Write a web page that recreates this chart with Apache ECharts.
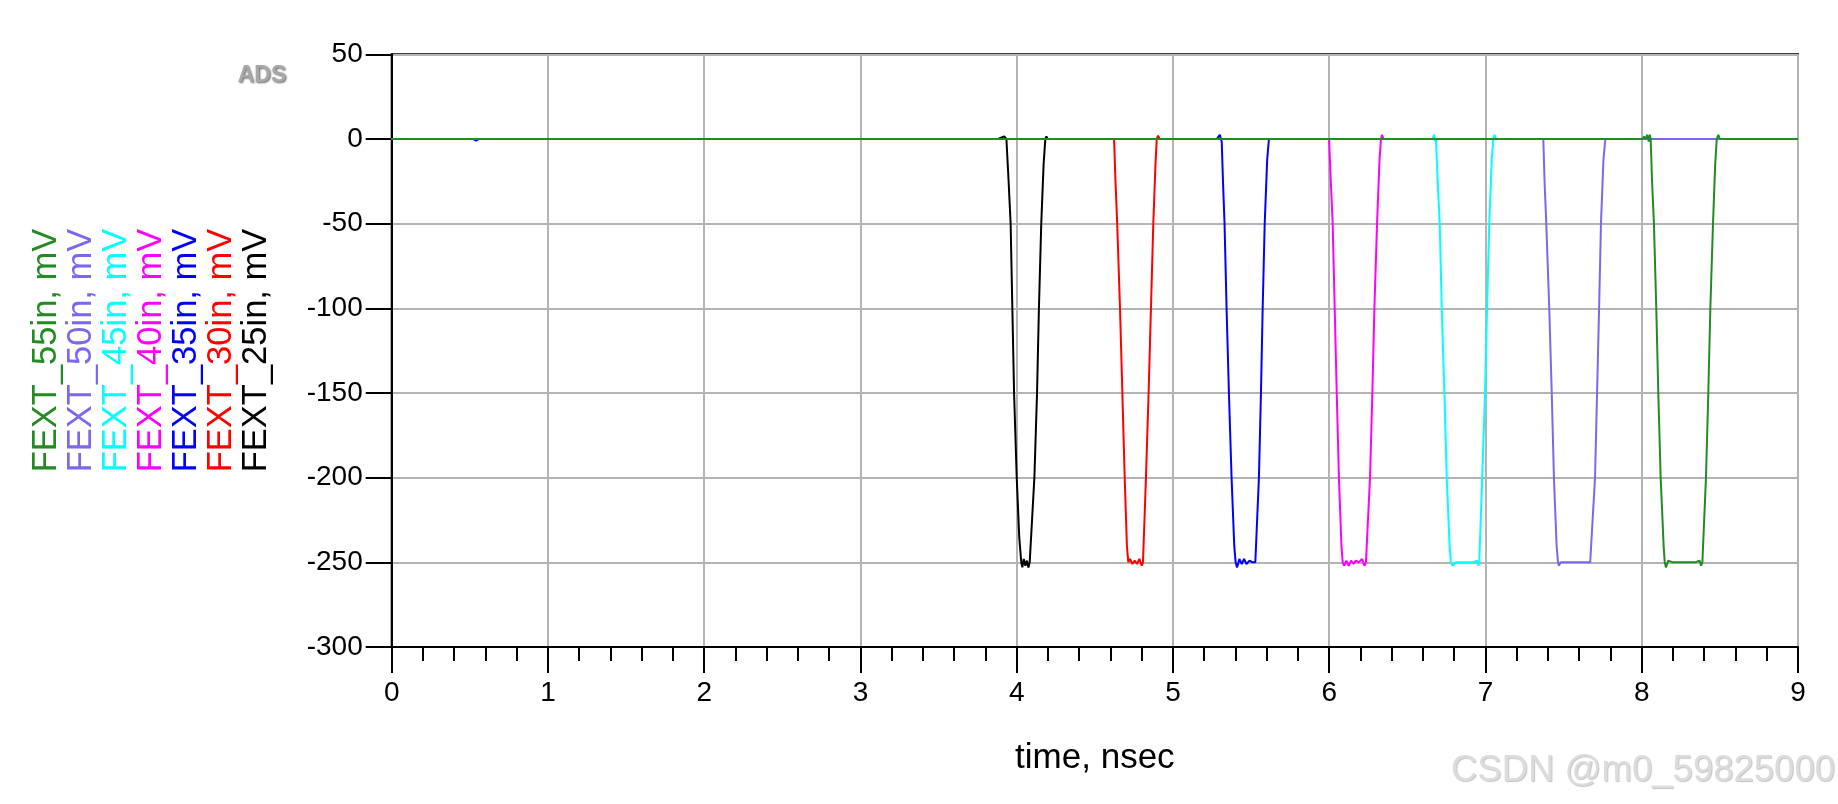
<!DOCTYPE html>
<html>
<head>
<meta charset="utf-8">
<script src="https://cdn.jsdelivr.net/npm/echarts@6/dist/echarts.min.js"></script>
<style>
html,body{margin:0;padding:0;background:#fff;}
#chart{width:1838px;height:804px;}
</style>
</head>
<body>
<div id="chart"></div>
<script>
// x ticks (nsec) and y ticks (mV)
const xTicks = [0, 1, 2, 3, 4, 5, 6, 7, 8, 9];
const yTicks = [50, 0, -50, -100, -150, -200, -250, -300];

const seriesNames = ['FEXT_25in', 'FEXT_30in', 'FEXT_35in', 'FEXT_40in', 'FEXT_45in', 'FEXT_50in', 'FEXT_55in'];
const seriesColors = ['#000000', '#FF0000', '#0000FF', '#FF00FF', '#00FFFF', '#7B68EE', '#228B22'];

// FEXT_25in (black)
const t25 = [0, 3.880, 3.886, 3.892, 3.920, 3.928, 3.934, 3.948, 3.961, 3.972, 3.983, 4.000, 4.016, 4.029, 4.036, 4.045, 4.055, 4.065, 4.075, 4.083, 4.091, 4.113, 4.130, 4.142, 4.157, 4.172, 4.183, 4.190, 4.198, 4.206, 4.214, 9];
const v25 = [0, 0, 0.8, 0, 1.5, 2, 0, -25, -50, -100, -150, -200, -235, -250, -253, -248, -252, -249, -253, -250, -250, -200, -150, -100, -50, -15, 0, 1.5, 0, 0.8, 0, 0];
// FEXT_30in (red)
const t30 = [0, 4.600, 4.623, 4.632, 4.643, 4.661, 4.676, 4.691, 4.705, 4.714, 4.725, 4.740, 4.755, 4.770, 4.785, 4.800, 4.808, 4.827, 4.844, 4.859, 4.874, 4.888, 4.896, 4.905, 4.915, 4.922, 4.930, 9];
const v30 = [0, 0, 0, -25, -50, -100, -150, -200, -240, -250, -248, -251, -249, -251, -248, -252, -250, -200, -150, -100, -50, -15, 0, 2, 0, 0.6, 0, 0];
// FEXT_35in (blue)
const t35 = [0, 0.52, 0.54, 0.56, 5.280, 5.290, 5.300, 5.306, 5.312, 5.320, 5.330, 5.343, 5.358, 5.375, 5.392, 5.401, 5.410, 5.425, 5.440, 5.455, 5.470, 5.490, 5.510, 5.522, 5.527, 5.550, 5.563, 5.574, 5.587, 5.603, 5.614, 5.622, 5.630, 9];
const v35 = [0, 0, -1, 0, 0, 1, 2.5, 0, -1.5, -25, -50, -100, -150, -200, -240, -250, -253, -248, -251, -248, -251, -249, -250, -249, -250, -200, -150, -100, -50, -12, 0, 0.6, 0, 0];
// FEXT_40in (magenta)
const t40 = [0, 5.999, 6.010, 6.022, 6.035, 6.048, 6.062, 6.078, 6.086, 6.095, 6.110, 6.125, 6.140, 6.155, 6.170, 6.190, 6.210, 6.225, 6.235, 6.240, 6.261, 6.276, 6.289, 6.306, 6.322, 6.331, 6.338, 6.348, 6.356, 6.364, 9];
const v40 = [0, 0, -25, -50, -100, -150, -200, -240, -250, -252, -249, -252, -249, -251, -249, -250, -248, -252, -250, -250, -200, -150, -100, -50, -12, 0, 2.5, 0, 0.6, 0, 0];
// FEXT_45in (cyan)
const t45 = [0, 6.660, 6.665, 6.672, 6.678, 6.683, 6.694, 6.707, 6.720, 6.737, 6.752, 6.770, 6.778, 6.790, 6.810, 6.830, 6.860, 6.890, 6.920, 6.945, 6.955, 6.960, 6.979, 6.997, 7.010, 7.024, 7.040, 7.050, 7.058, 7.066, 7.074, 7.082, 9];
const v45 = [0, 0, 0, 2.5, -1.5, 0, -25, -50, -100, -150, -200, -240, -250, -252, -250, -250, -250, -250, -250, -249, -252, -250, -200, -150, -100, -50, -12, 0, 2.5, 0, 1, 0, 0];
// FEXT_50in (purple)
const t50 = [0, 7.355, 7.362, 7.370, 7.378, 7.389, 7.408, 7.424, 7.438, 7.455, 7.464, 7.470, 7.480, 7.500, 7.550, 7.600, 7.650, 7.670, 7.675, 7.701, 7.714, 7.727, 7.739, 7.755, 7.767, 9];
const v50 = [0, 0, 1, 0, -25, -50, -100, -150, -200, -240, -250, -252, -250, -250, -250, -250, -250, -250, -250, -200, -150, -100, -50, -12, 0, 0];
// FEXT_55in (green)
const t55 = [0, 7.985, 7.995, 8.005, 8.015, 8.025, 8.035, 8.045, 8.052, 8.057, 8.066, 8.078, 8.093, 8.106, 8.121, 8.140, 8.147, 8.155, 8.170, 8.200, 8.250, 8.300, 8.340, 8.370, 8.380, 8.388, 8.411, 8.426, 8.439, 8.456, 8.470, 8.480, 8.490, 8.500, 8.510, 8.520, 9];
const v55 = [0, 0, 1, 0, 1.5, 0, 2.5, -1.5, 2.5, 0, -25, -50, -100, -150, -200, -240, -250, -253, -249, -250, -250, -250, -250, -249, -252, -250, -200, -150, -100, -50, -15, 0, 2.5, 0, 1, 0, 0];

const times = [t25, t30, t35, t40, t45, t50, t55];
const values = [v25, v30, v35, v40, v45, v50, v55];

const FONT = '"Liberation Sans", Arial, sans-serif';

const series = seriesNames.map((name, i) => ({
  name: name,
  type: 'line',
  showSymbol: false,
  symbol: 'none',
  animation: false,
  lineStyle: { color: seriesColors[i], width: 2 },
  itemStyle: { color: seriesColors[i] },
  data: times[i].map((t, k) => [t, values[i][k]])
}));

// Legend-like rotated labels (left side), green first from left
const legendOrder = [6, 5, 4, 3, 2, 1, 0];
const legendTexts = legendOrder.map((idx, col) => ({
  type: 'text',
  x: 46.7 + col * 35,
  y: 350.5,
  rotation: Math.PI / 2,
  style: {
    text: seriesNames[idx] + ', mV',
    fill: seriesColors[idx],
    font: '34.5px ' + FONT,
    textAlign: 'center',
    textVerticalAlign: 'middle'
  }
}));

const chart = echarts.init(document.getElementById('chart'));
chart.setOption({
  animation: false,
  backgroundColor: '#ffffff',
  grid: {
    left: 391.7,
    right: 40,
    top: 54.3,
    bottom: 157,
    show: true,
    borderColor: '#000000',
    borderWidth: 2,
    backgroundColor: 'transparent'
  },
  xAxis: {
    type: 'value',
    min: xTicks[0],
    max: xTicks[xTicks.length - 1],
    interval: 1,
    name: 'time, nsec',
    nameLocation: 'middle',
    nameGap: 94,
    nameTextStyle: { color: '#000', fontSize: 35, fontFamily: FONT },
    axisLine: { show: true, onZero: false, lineStyle: { color: '#000', width: 2 } },
    axisTick: { show: true, inside: false, length: 26, lineStyle: { color: '#000', width: 2 } },
    minorTick: { show: true, splitNumber: 5, length: 14, lineStyle: { color: '#000', width: 2 } },
    axisLabel: { color: '#000', fontSize: 28, fontFamily: FONT, margin: 32 },
    splitLine: { show: true, lineStyle: { color: '#b4b4b4', width: 2 } }
  },
  yAxis: {
    type: 'value',
    min: yTicks[yTicks.length - 1],
    max: yTicks[0],
    interval: 50,
    axisLine: { show: true, onZero: false, lineStyle: { color: '#000', width: 2 } },
    axisTick: { show: true, inside: false, length: 26, lineStyle: { color: '#000', width: 2 } },
    axisLabel: { color: '#000', fontSize: 28, fontFamily: FONT, margin: 29 },
    splitLine: { show: true, lineStyle: { color: '#b4b4b4', width: 2 } }
  },
  graphic: legendTexts.concat([
    {
      type: 'text',
      x: 262,
      y: 76,
      style: {
        text: 'ADS',
        fill: '#a8a8a8',
        font: 'bold 23px ' + FONT,
        textAlign: 'center',
        textVerticalAlign: 'middle',
        textShadowColor: '#666',
        textShadowBlur: 2,
        textShadowOffsetX: 1,
        textShadowOffsetY: 1
      }
    },
    {
      type: 'text',
      x: 1835,
      y: 771,
      style: {
        text: 'CSDN @m0_59825000',
        fill: '#dcdcdc',
        font: '36.5px ' + FONT,
        textAlign: 'right',
        textVerticalAlign: 'middle',
        textShadowColor: '#c4c4c4',
        textShadowBlur: 1,
        textShadowOffsetX: 1,
        textShadowOffsetY: 1
      }
    }
  ]),
  series: series
});
</script>
</body>
</html>
